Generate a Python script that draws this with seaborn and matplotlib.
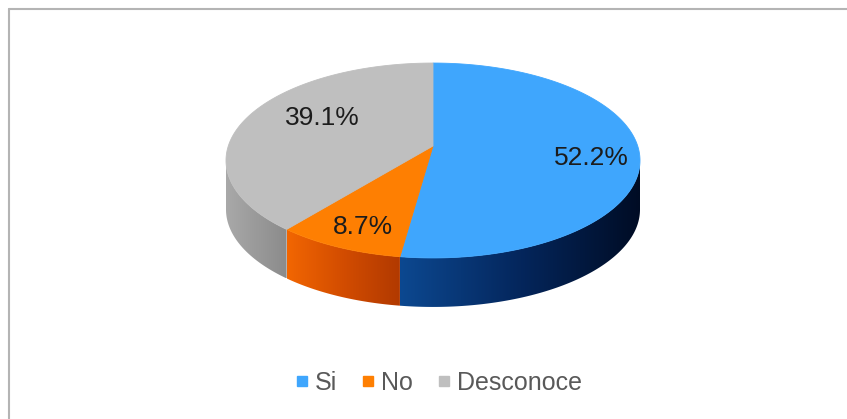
import numpy as np
import matplotlib
matplotlib.use("Agg")
import matplotlib.pyplot as plt
import seaborn as sns
from matplotlib.patches import Polygon
from matplotlib.colors import LinearSegmentedColormap
from matplotlib.lines import Line2D

# Survey answers and their shares (%)
categories = ["Si", "No", "Desconoce"]
shares = [52.2, 8.7, 39.1]

top_colors = ["#3fa6fd", "#fe7f02", "#bfbfbf"]
side_ramps = [["#0c4890", "#04265c", "#000c24"],
              ["#f26602", "#d24c00", "#b13900"],
              ["#a9a9a9", "#9a9a9a", "#8b8b8b"]]
label_xy = [(591, 158), (363, 227), (322, 118)]

sns.set_theme(style="white")
plt.rcParams["font.family"] = ["Liberation Sans", "DejaVu Sans"]

W, H = 847, 419
fig = plt.figure(figsize=(W / 100, H / 100), dpi=100)
ax = fig.add_axes([0, 0, 1, 1])

# Perspective pie geometry (pixel space)
CX, CY, A, B, K, DEPTH = 433.0, 146.0, 204.7, 95.3, 0.1487, 49.0


def project(phi_deg):
    phi = np.radians(phi_deg)
    u, v = np.cos(phi), -np.sin(phi)
    s = 1.0 / (1.0 - K * v)
    return CX + A * u * s, CY + B * v * s


# visible rim: between the left-most and right-most points of the rim
probe = np.linspace(-90, 90, 3601)
phi_right = probe[np.argmax(project(probe)[0])]
phi_left = -180.0 - phi_right

cum = np.concatenate([[0], np.cumsum(shares)])
his = 90.0 - cum[:-1] * 3.6
los = 90.0 - cum[1:] * 3.6

# side walls
for i in range(len(shares)):
    lo, hi = max(los[i], phi_left), min(his[i], phi_right)
    if hi <= lo:
        continue
    ph = np.linspace(hi, lo, 200)
    x, y = project(ph)
    pts = np.vstack([np.column_stack([x, y]),
                     np.column_stack([x[::-1], y[::-1] + DEPTH])])
    poly = Polygon(pts, closed=True, facecolor="none", edgecolor="none")
    ax.add_patch(poly)
    cmap = LinearSegmentedColormap.from_list(f"side{i}", side_ramps[i])
    grad = np.linspace(0, 1, 256)[None, :]
    xmin, xmax = x.min(), x.max()
    ymin, ymax = y.min(), y.max() + DEPTH
    im = ax.imshow(grad, extent=(xmin, xmax, ymax, ymin), cmap=cmap,
                   aspect="auto", zorder=1, interpolation="bilinear")
    im.set_clip_path(poly)

# top faces
for i in range(len(shares)):
    ph = np.linspace(his[i], los[i], 300)
    x, y = project(ph)
    pts = np.vstack([[CX, CY], np.column_stack([x, y])])
    ax.add_patch(Polygon(pts, closed=True, facecolor=top_colors[i],
                         edgecolor=top_colors[i], linewidth=0.6, zorder=2))

for txt_val, (lx, ly) in zip(shares, label_xy):
    ax.text(lx, ly, f"{txt_val:.1f}%", ha="center", va="center",
            fontsize=19, color="#1c1c1c", zorder=3)

ax.set_xlim(0, W)
ax.set_ylim(H, 0)
ax.axis("off")

# chart-area border (top and left edges)
fig.add_artist(Line2D([8.5 / W, 1], [1 - 9.5 / H, 1 - 9.5 / H],
                      transform=fig.transFigure, color="#b4b4b4", lw=1.5))
fig.add_artist(Line2D([8.5 / W, 8.5 / W], [0, 1 - 9.5 / H],
                      transform=fig.transFigure, color="#b4b4b4", lw=1.5))

handles = [Line2D([], [], marker="s", linestyle="none", markersize=7,
                  markerfacecolor=c, markeredgecolor=c) for c in top_colors]
fig.legend(handles, categories, loc="center", ncol=3, frameon=False,
           bbox_to_anchor=(439 / W, 1 - 383 / H), fontsize=18,
           handlelength=0.45, handletextpad=0.3, columnspacing=1.0,
           labelcolor="#595959")

fig.savefig("out.png", dpi=100, facecolor="white")
